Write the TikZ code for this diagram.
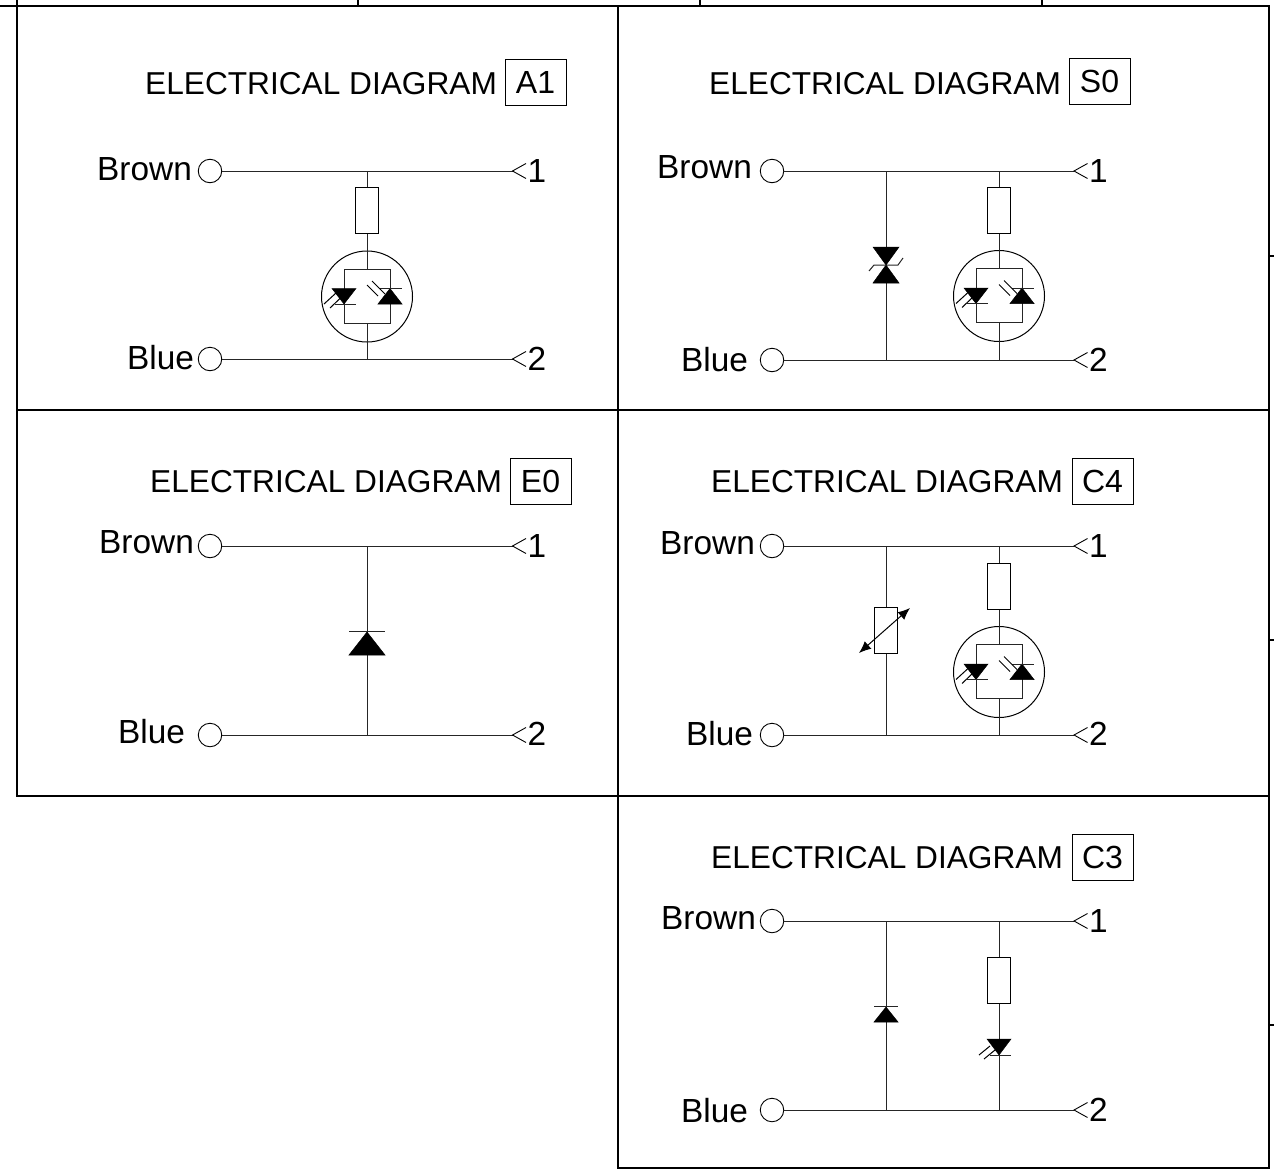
\documentclass[tikz,border=0pt]{standalone}
\usepackage{fontspec}
\setmainfont{Liberation Sans}
\usetikzlibrary{arrows.meta}
\tikzset{
  wire/.style={line width=1pt,black!85},
  thick frame/.style={line width=2pt,black},
  label text/.style={anchor=base west,inner sep=0pt,font=\fontsize{33.4}{38}\selectfont},
  title text/.style={anchor=base west,inner sep=0pt,font=\fontsize{31.65}{38}\selectfont},
  code box/.style={draw,line width=1pt,inner sep=0pt,minimum width=61pt,minimum height=46pt,font=\fontsize{32}{38}\selectfont},
  terminal/.style={circle,draw,line width=.9pt,fill=white,inner sep=0pt,minimum size=23.5pt},
  resistor/.style={rectangle,draw,line width=1pt,fill=white,inner sep=0pt,minimum width=23pt,minimum height=46pt},
  solid part/.style={fill=black,draw=black,line width=.5pt,line join=miter},
  photo/.pic={
    \coordinate (-top) at (0,-27.5);
    \coordinate (-bot) at (0,26.5);
    \draw[line width=1pt] (0,0) circle[radius=45.5];
    \draw[wire] (-23,-27.5) rectangle (23,26.5);
    \fill[solid part] (-35,-8) -- (-11,-8) -- (-23,7.5) -- cycle;
    \draw[wire] (-32,7.5) -- (-11,7.5);
    \draw[line width=1pt] (-43,7.5) -- (-31,-3.5) (-37,11.5) -- (-26,1);
    \fill[solid part] (11,7.5) -- (35,7.5) -- (23,-8) -- cycle;
    \draw[wire] (13,-8) -- (35,-8);
    \draw[line width=1pt] (0,-11.5) -- (11,-.5) (5,-15.5) -- (18,-2.5);
  },
  tip mark/.pic={\draw[line width=.9pt] (13.5,-7.5) -- (0,0) -- (13.5,7.5);}
}
\begin{document}
\begin{tikzpicture}[x=1pt,y=-1pt]
\useasboundingbox (0,0) rectangle (1274,1173);
% frame
\draw[thick frame] (0,6) -- (1269,6) -- (1269,1168) -- (618,1168) -- (618,6);
\draw[thick frame] (17,0) -- (17,796) -- (1269,796);
\draw[thick frame] (17,410) -- (1269,410);
\draw[line width=1.5pt] (358,0) -- (358,6) (700,0) -- (700,6) (1042,0) -- (1042,6);
\draw[line width=1.5pt] (1269,256) -- (1274,256) (1269,640) -- (1274,640) (1269,1025) -- (1274,1025);

% ---------- A1
\node[title text] (a1title) at (145,94) {ELECTRICAL DIAGRAM};
\node[code box] (a1code) at (535.5,82) {A1};
\node[label text] (a1brown) at (97,180) {Brown};
\node[label text] (a1blue) at (127,369) {Blue};
\node[terminal] (a1p) at (210,171) {};
\node[terminal] (a1n) at (210,359) {};
\coordinate (a1e1) at (512.5,171);
\coordinate (a1e2) at (512.5,359);
\coordinate (a1j1) at (367,171);
\coordinate (a1j2) at (367,359);
\node[label text] (a1one) at (527.5,182) {1};
\node[label text] (a1two) at (527.5,370) {2};
\draw[wire] (a1p) -- (a1e1);
\draw[wire] (a1n) -- (a1e2);
\pic at (a1e1) {tip mark};
\pic at (a1e2) {tip mark};
\node[resistor] (a1r) at (367,210.5) {};
\pic (a1ph) at (367,296.5) {photo};
\draw[wire] (a1j1) -- (a1r);
\draw[wire] (a1r) -- (a1ph-top);
\draw[wire] (a1ph-bot) -- (a1j2);

% ---------- S0
\node[title text] (s0title) at (709,94) {ELECTRICAL DIAGRAM};
\node[code box] (s0code) at (1099.5,81) {S0};
\node[label text] (s0brown) at (657,178) {Brown};
\node[label text] (s0blue) at (681,371) {Blue};
\node[terminal] (s0p) at (772,171) {};
\node[terminal] (s0n) at (772,360) {};
\coordinate (s0e1) at (1074,171);
\coordinate (s0e2) at (1074,360);
\coordinate (s0j1) at (886,171);
\coordinate (s0j2) at (886,360);
\coordinate (s0j3) at (999,171);
\coordinate (s0j4) at (999,360);
\node[label text] (s0one) at (1089,182) {1};
\node[label text] (s0two) at (1089,371) {2};
\draw[wire] (s0p) -- (s0e1);
\draw[wire] (s0n) -- (s0e2);
\pic at (s0e1) {tip mark};
\pic at (s0e2) {tip mark};
\draw[wire] (s0j1) -- (s0j2);
\fill[solid part] (873,247) -- (899,247) -- (873,283) -- (899,283) -- cycle;
\draw[wire] (869,271) -- (874,265) -- (898,265) -- (903,258);
\node[resistor] (s0r) at (999,210) {};
\pic (s0ph) at (999,296) {photo};
\draw[wire] (s0j3) -- (s0r);
\draw[wire] (s0r) -- (s0ph-top);
\draw[wire] (s0ph-bot) -- (s0j4);

% ---------- E0
\node[title text] (e0title) at (150,492) {ELECTRICAL DIAGRAM};
\node[code box] (e0code) at (540.5,481) {E0};
\node[label text] (e0brown) at (99,553) {Brown};
\node[label text] (e0blue) at (118,743) {Blue};
\node[terminal] (e0p) at (210,546) {};
\node[terminal] (e0n) at (210,735) {};
\coordinate (e0e1) at (512.5,546);
\coordinate (e0e2) at (512.5,735);
\coordinate (e0j1) at (367,546);
\coordinate (e0j2) at (367,735);
\node[label text] (e0one) at (527.5,557) {1};
\node[label text] (e0two) at (527.5,745) {2};
\draw[wire] (e0p) -- (e0e1);
\draw[wire] (e0n) -- (e0e2);
\pic at (e0e1) {tip mark};
\pic at (e0e2) {tip mark};
\draw[wire] (e0j1) -- (e0j2);
\fill[solid part] (349,655) -- (385,655) -- (367,632) -- cycle;
\draw[wire] (349,631) -- (385,631);

% ---------- C4
\node[title text] (c4title) at (711,492) {ELECTRICAL DIAGRAM};
\node[code box] (c4code) at (1102.5,481) {C4};
\node[label text] (c4brown) at (660,554) {Brown};
\node[label text] (c4blue) at (686,745) {Blue};
\node[terminal] (c4p) at (772,546) {};
\node[terminal] (c4n) at (772,735) {};
\coordinate (c4e1) at (1074,546);
\coordinate (c4e2) at (1074,735);
\coordinate (c4j1) at (886,546);
\coordinate (c4j2) at (886,735);
\coordinate (c4j3) at (999,546);
\coordinate (c4j4) at (999,735);
\node[label text] (c4one) at (1089,557) {1};
\node[label text] (c4two) at (1089,745) {2};
\draw[wire] (c4p) -- (c4e1);
\draw[wire] (c4n) -- (c4e2);
\pic at (c4e1) {tip mark};
\pic at (c4e2) {tip mark};
\node[resistor] (c4v) at (886,630) {};
\draw[wire] (c4j1) -- (c4v);
\draw[wire] (c4v) -- (c4j2);
\coordinate (c4a) at (859,653);
\coordinate (c4b) at (910,608);
\draw[line width=1pt,{Latex[length=12pt,width=10pt]}-{Latex[length=12pt,width=10pt]}] (c4a) -- (c4b);
\node[resistor] (c4r) at (999,586) {};
\pic (c4ph) at (999,672) {photo};
\draw[wire] (c4j3) -- (c4r);
\draw[wire] (c4r) -- (c4ph-top);
\draw[wire] (c4ph-bot) -- (c4j4);

% ---------- C3
\node[title text] (c3title) at (711,868) {ELECTRICAL DIAGRAM};
\node[code box] (c3code) at (1102.5,857) {C3};
\node[label text] (c3brown) at (661,929) {Brown};
\node[label text] (c3blue) at (681,1122) {Blue};
\node[terminal] (c3p) at (772,921) {};
\node[terminal] (c3n) at (772,1110) {};
\coordinate (c3e1) at (1074,921);
\coordinate (c3e2) at (1074,1110);
\coordinate (c3j1) at (886,921);
\coordinate (c3j2) at (886,1110);
\coordinate (c3j3) at (999,921);
\coordinate (c3j4) at (999,1110);
\node[label text] (c3one) at (1089,932) {1};
\node[label text] (c3two) at (1089,1121) {2};
\draw[wire] (c3p) -- (c3e1);
\draw[wire] (c3n) -- (c3e2);
\pic at (c3e1) {tip mark};
\pic at (c3e2) {tip mark};
\draw[wire] (c3j1) -- (c3j2);
\fill[solid part] (874,1022) -- (898,1022) -- (886,1007) -- cycle;
\draw[wire] (874,1006) -- (898,1006);
\node[resistor] (c3r) at (999,980.5) {};
\draw[wire] (c3j3) -- (c3r);
\draw[wire] (c3r) -- (c3j4);
\fill[solid part] (987,1039) -- (1011,1039) -- (999,1055) -- cycle;
\draw[wire] (990,1055) -- (1011,1055);
\draw[line width=1pt] (979,1055) -- (990,1046) (984,1059) -- (995,1050);
\end{tikzpicture}
\end{document}
